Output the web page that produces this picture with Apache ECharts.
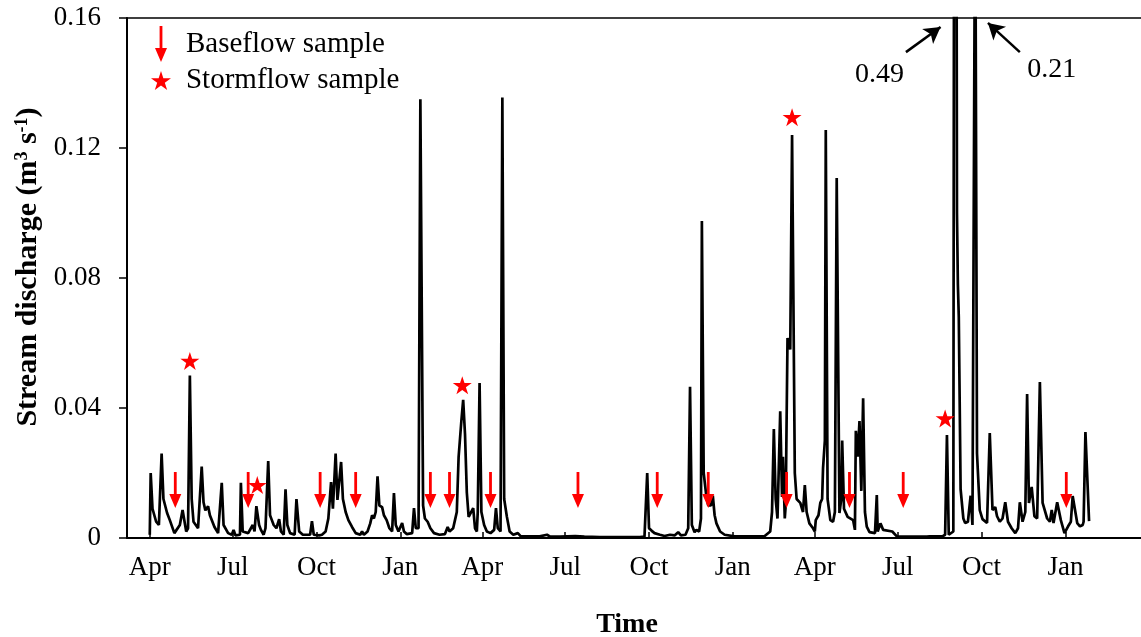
<!DOCTYPE html>
<html>
<head>
<meta charset="utf-8">
<script src="https://cdn.jsdelivr.net/npm/echarts@6/dist/echarts.min.js"></script>
<style>html,body{margin:0;padding:0;background:#fff}#c{width:1141px;height:637px}</style>
</head>
<body>
<div id="c"></div>
<script>
// ---------------- DATA ----------------
const flowDates = [
'2013-04-01','2013-04-02','2013-04-04','2013-04-08','2013-04-11','2013-04-14','2013-04-16','2013-04-20','2013-04-23','2013-04-28',
'2013-05-04','2013-05-07','2013-05-11','2013-05-13','2013-05-15','2013-05-17','2013-05-19','2013-05-24','2013-05-28','2013-05-30',
'2013-06-01','2013-06-04','2013-06-06','2013-06-08','2013-06-11','2013-06-15','2013-06-17','2013-06-19','2013-06-21','2013-06-26',
'2013-06-30','2013-07-02','2013-07-04','2013-07-09','2013-07-10','2013-07-12','2013-07-18','2013-07-21','2013-07-23','2013-07-25',
'2013-07-27','2013-07-30','2013-08-01','2013-08-04','2013-08-06','2013-08-09','2013-08-11','2013-08-13','2013-08-15','2013-08-18',
'2013-08-21','2013-08-23','2013-08-26','2013-08-28','2013-08-30','2013-09-02','2013-09-07','2013-09-09','2013-09-12','2013-09-16',
'2013-09-24','2013-09-26','2013-09-28','2013-09-30','2013-10-04','2013-10-07','2013-10-11','2013-10-14','2013-10-17','2013-10-19',
'2013-10-22','2013-10-24','2013-10-28','2013-10-30','2013-11-02','2013-11-05','2013-11-09','2013-11-13','2013-11-18','2013-11-20',
'2013-11-22','2013-11-26','2013-11-29','2013-12-01','2013-12-03','2013-12-05','2013-12-07','2013-12-09','2013-12-12','2013-12-14',
'2013-12-17','2013-12-20','2013-12-23','2013-12-25','2013-12-27','2013-12-30','2014-01-03','2014-01-05','2014-01-08','2014-01-14',
'2014-01-16','2014-01-18','2014-01-21','2014-01-23','2014-01-26','2014-01-28','2014-01-31','2014-02-03','2014-02-07','2014-02-13',
'2014-02-19','2014-02-22','2014-02-24','2014-02-28','2014-03-02','2014-03-04','2014-03-06','2014-03-09','2014-03-11','2014-03-13',
'2014-03-15','2014-03-17','2014-03-19','2014-03-22','2014-03-24','2014-03-26','2014-03-27','2014-03-29','2014-03-31','2014-04-03',
'2014-04-06','2014-04-10','2014-04-14','2014-04-16','2014-04-18','2014-04-21','2014-04-23','2014-04-25','2014-04-28','2014-05-01',
'2014-05-05','2014-05-10','2014-05-13','2014-05-23','2014-06-03','2014-06-11','2014-06-14','2014-06-25','2014-07-12','2014-07-22',
'2014-08-08','2014-08-30','2014-09-21','2014-09-26','2014-09-29','2014-10-01','2014-10-04','2014-10-07','2014-10-13','2014-10-18',
'2014-10-24','2014-10-29','2014-11-02','2014-11-05','2014-11-10','2014-11-13','2014-11-15','2014-11-17','2014-11-20','2014-11-22',
'2014-11-25','2014-11-27','2014-11-28','2014-11-30','2014-12-03','2014-12-05','2014-12-08','2014-12-10','2014-12-12','2014-12-14',
'2014-12-18','2014-12-23','2015-01-03','2015-01-20','2015-02-05','2015-02-11','2015-02-13','2015-02-15','2015-02-17','2015-02-19',
'2015-02-22','2015-02-24','2015-02-25','2015-02-27','2015-02-28','2015-03-02','2015-03-05','2015-03-07','2015-03-10','2015-03-12',
'2015-03-16','2015-03-19','2015-03-21','2015-03-23','2015-03-26','2015-03-30','2015-04-01','2015-04-02','2015-04-05','2015-04-07',
'2015-04-09','2015-04-10','2015-04-12','2015-04-13','2015-04-15','2015-04-18','2015-04-21','2015-04-23','2015-04-25','2015-04-28',
'2015-04-30','2015-05-01','2015-05-03','2015-05-07','2015-05-09','2015-05-13','2015-05-15','2015-05-16','2015-05-18','2015-05-20',
'2015-05-22','2015-05-24','2015-05-26','2015-05-28','2015-05-31','2015-06-06','2015-06-08','2015-06-09','2015-06-12','2015-06-15',
'2015-06-17','2015-06-25','2015-06-30','2015-07-14','2015-08-02','2015-08-03','2015-08-05','2015-08-19','2015-08-22','2015-08-24',
'2015-08-26','2015-08-28','2015-08-31','2015-09-02','2015-09-04','2015-09-05','2015-09-06','2015-09-08','2015-09-11','2015-09-13',
'2015-09-16','2015-09-19','2015-09-21','2015-09-24','2015-09-26','2015-09-29','2015-10-02','2015-10-07','2015-10-10','2015-10-13',
'2015-10-16','2015-10-18','2015-10-21','2015-10-24','2015-10-27','2015-10-30','2015-11-03','2015-11-07','2015-11-10','2015-11-12',
'2015-11-15','2015-11-18','2015-11-20','2015-11-22','2015-11-25','2015-11-28','2015-12-01','2015-12-04','2015-12-07','2015-12-12',
'2015-12-15','2015-12-17','2015-12-19','2015-12-23','2015-12-27','2015-12-31','2016-01-04','2016-01-07','2016-01-09','2016-01-14',
'2016-01-17','2016-01-20','2016-01-21','2016-01-23','2016-01-27'
];
const flowValues = [
0.001,0.020,0.009,0.005,0.004,0.026,0.012,0.0077,0.0055,0.0015,
0.004,0.0086,0.002,0.003,0.050,0.012,0.005,0.003,0.022,0.011,
0.0085,0.0098,0.007,0.0075,0.0034,0.0015,0.002,0.017,0.004,0.0015,
0.001,0.0025,0.0008,0.001,0.017,0.002,0.0015,0.003,0.004,0.002,
0.0098,0.004,0.0025,0.001,0.003,0.0237,0.007,0.0055,0.004,0.003,
0.0058,0.002,0.001,0.015,0.004,0.0015,0.001,0.012,0.002,0.001,
0.001,0.0052,0.001,0.0015,0.0008,0.001,0.002,0.006,0.0172,0.009,
0.026,0.0117,0.0234,0.012,0.008,0.0055,0.0034,0.0015,0.001,0.002,
0.001,0.002,0.0045,0.007,0.006,0.008,0.019,0.010,0.0095,0.007,
0.0055,0.003,0.002,0.0138,0.004,0.002,0.0046,0.002,0.0012,0.0015,
0.0092,0.003,0.003,0.135,0.010,0.006,0.005,0.003,0.0015,0.001,
0.0012,0.0034,0.002,0.003,0.0055,0.008,0.025,0.036,0.0425,0.032,
0.014,0.0065,0.006,0.0092,0.003,0.002,0.008,0.0477,0.008,0.004,
0.002,0.0015,0.0025,0.0092,0.003,0.002,0.1355,0.012,0.0065,0.002,
0.001,0.0015,0.0006,0.0005,0.0005,0.001,0.0005,0.0004,0.0006,0.0004,
0.0003,0.0003,0.0003,0.0004,0.020,0.003,0.0022,0.0015,0.001,0.0006,
0.001,0.0008,0.0018,0.0008,0.001,0.003,0.0465,0.004,0.0018,0.0025,
0.002,0.006,0.0975,0.020,0.0126,0.010,0.010,0.013,0.007,0.0045,
0.002,0.001,0.0005,0.0005,0.0006,0.002,0.008,0.0335,0.012,0.006,
0.039,0.0126,0.025,0.006,0.010,0.0615,0.058,0.124,0.020,0.012,
0.0108,0.008,0.0163,0.008,0.0045,0.003,0.002,0.0055,0.007,0.0108,
0.012,0.0215,0.030,0.1255,0.012,0.0055,0.005,0.008,0.1108,0.0077,
0.012,0.030,0.009,0.0065,0.006,0.0055,0.0025,0.033,0.025,0.036,
0.0145,0.043,0.008,0.0035,0.0018,0.0015,0.0132,0.002,0.0045,0.0025,
0.0025,0.002,0.0005,0.0004,0.0004,0.001,0.0005,0.0005,0.001,0.0317,
0.001,0.0005,0.002,0.49,0.10,0.078,0.068,0.015,0.006,0.0046,
0.005,0.013,0.004,0.21,0.026,0.0086,0.0058,0.0046,0.0323,0.0086,
0.0095,0.0067,0.005,0.006,0.011,0.005,0.003,0.0015,0.003,0.011,
0.005,0.008,0.0443,0.0108,0.0157,0.0067,0.006,0.048,0.0108,0.006,
0.005,0.0086,0.0046,0.011,0.0055,0.0015,0.0036,0.005,0.0129,0.0046,
0.0036,0.004,0.005,0.0326,0.0052
];
const baseflowDates = ['2013-04-29','2013-07-18','2013-10-05','2013-11-13','2014-02-03','2014-02-24','2014-04-10',
  '2014-07-15','2014-10-10','2014-12-05','2015-03-01','2015-05-09','2015-07-07','2016-01-02'];
const baseflowValues = [0.0148,0.0148,0.0148,0.0148,0.0148,0.0148,0.0148,0.0148,0.0148,0.0148,0.0148,0.0148,0.0148,0.0148];
const stormflowDates = ['2013-05-15','2013-07-28','2014-03-10','2015-03-07','2015-08-22'];
const stormflowValues = [0.0545,0.0163,0.047,0.1295,0.0368];
const xTickDates = ['2013-04-01','2013-07-01','2013-10-01','2014-01-01','2014-04-01','2014-07-01','2014-10-01',
  '2015-01-01','2015-04-01','2015-07-01','2015-10-01','2016-01-01'];
const xTickLabels = ['Apr','Jul','Oct','Jan','Apr','Jul','Oct','Jan','Apr','Jul','Oct','Jan'];
const yTickLabels = ['0','0.04','0.08','0.12','0.16'];
const offscaleLabels = ['0.49','0.21'];
const offscaleLabelDates = ['2015-06-11','2015-12-17'];
const offscaleLabelValues = [0.1425,0.1440];
const offscaleArrowFrom = [['2015-07-10',0.1495],['2015-11-12',0.1495]];
const offscaleArrowTo = [['2015-08-17',0.1572],['2015-10-08',0.1585]];

// ---------------- CHART ----------------
function ts(s){ const p=s.split('-'); return Date.UTC(+p[0], +p[1]-1, +p[2]); }
const FONT = "'Liberation Serif','Times New Roman',serif";
const arrowPath = 'path://M4.6,0 L7.4,0 L7.4,22 L12,22 L6,36 L0,22 L4.6,22 Z';
const starPath = 'path://M50,0 L61.2,34.5 L97.6,34.5 L68.2,55.9 L79.4,90.5 L50,69.1 L20.6,90.5 L31.8,55.9 L2.4,34.5 L38.8,34.5 Z';
const tickTs = xTickDates.map(ts);

const chart = echarts.init(document.getElementById('c'), null, {renderer:'canvas'});
chart.setOption({
  animation:false,
  backgroundColor:'#fff',
  grid:{left:127, right:0, top:18, bottom:99, containLabel:false, outerBoundsMode:'none'},
  legend:[
    {data:[{name:'Baseflow sample', icon:arrowPath, itemStyle:{color:'#ff0000', opacity:1}}], left:155, top:26, padding:0,
     itemWidth:12, itemHeight:36, symbolKeepAspect:true,
     textStyle:{fontFamily:FONT, fontSize:29, color:'#000', padding:[9,0,0,14]}},
    {data:[{name:'Stormflow sample', icon:starPath, itemStyle:{color:'#ff0000', opacity:1}}], left:151, top:66, padding:0,
     itemWidth:20, itemHeight:19, symbolKeepAspect:true,
     textStyle:{fontFamily:FONT, fontSize:29, color:'#000', padding:[0,0,0,10]}}
  ],
  xAxis:[{
    type:'value', min:ts('2013-03-07'), max:ts('2016-03-24'),
    name:'Time', nameLocation:'middle', nameGap:73,
    nameTextStyle:{fontFamily:FONT, fontSize:28, fontWeight:'bold', color:'#000', padding:[0,14,0,0]},
    axisLine:{show:true, onZero:false, lineStyle:{color:'#000', width:2}},
    axisTick:{show:true, inside:true, length:6, customValues:tickTs, lineStyle:{color:'#000', width:1.5}},
    axisLabel:{customValues:tickTs, margin:16, fontFamily:FONT, fontSize:27, color:'#000',
      formatter:function(v){ const i=tickTs.indexOf(v); return i>=0 ? xTickLabels[i] : ''; }},
    splitLine:{show:false}, minorTick:{show:false}
  },{
    type:'value', position:'top', min:0, max:1,
    axisLine:{show:true, onZero:false, lineStyle:{color:'#000', width:1.5}},
    axisTick:{show:false}, axisLabel:{show:false}, splitLine:{show:false}
  }],
  yAxis:{
    type:'value', min:0, max:0.16, interval:0.04,
    name:'Stream discharge (m{sup|3} s{sup|-1})', nameLocation:'middle', nameGap:84,
    nameTextStyle:{fontFamily:FONT, fontSize:30, fontWeight:'bold', color:'#000', padding:[0,0,0,22],
      rich:{sup:{fontFamily:FONT, fontSize:18, fontWeight:'bold', color:'#000', verticalAlign:'top'}}},
    axisLine:{show:true, lineStyle:{color:'#000', width:2}},
    axisTick:{show:true, length:8, lineStyle:{color:'#000', width:1.5}},
    axisLabel:{margin:26, fontFamily:FONT, fontSize:27, color:'#000', padding:[8,0,0,0],
      formatter:function(v){ return yTickLabels[Math.round(v/0.04)]; }},
    splitLine:{show:false}
  },
  series:[
    {name:'Discharge', type:'line', clip:true, showSymbol:false, symbol:'none',
     lineStyle:{color:'#000', width:2.7}, z:2,
     data:flowDates.map((d,i)=>[ts(d), flowValues[i]])},
    {name:'Baseflow sample', type:'scatter', symbol:arrowPath, symbolSize:[12,36], z:3,
     itemStyle:{color:'#ff0000', opacity:1},
     data:baseflowDates.map((d,i)=>[ts(d), baseflowValues[i]])},
    {name:'Stormflow sample', type:'scatter', symbol:starPath, symbolSize:[19,18], z:3,
     itemStyle:{color:'#ff0000', opacity:1},
     data:stormflowDates.map((d,i)=>[ts(d), stormflowValues[i]])},
    {name:'offscale', type:'scatter', symbolSize:0, z:4, silent:true,
     itemStyle:{opacity:1},
     label:{show:true, position:'inside', fontFamily:FONT, fontSize:28, color:'#000', textBorderWidth:0, opacity:1,
       formatter:function(p){ return offscaleLabels[p.dataIndex]; }},
     data:offscaleLabelDates.map((d,i)=>[ts(d), offscaleLabelValues[i]]),
     markLine:{silent:true, symbol:['none','arrow'], symbolSize:[14,16], animation:false,
       lineStyle:{color:'#000', width:2.5, type:'solid', opacity:1}, label:{show:false},
       data:offscaleArrowFrom.map((f,i)=>[{coord:[ts(f[0]), f[1]]},{coord:[ts(offscaleArrowTo[i][0]), offscaleArrowTo[i][1]]}])}
    }
  ]
});
</script>
</body>
</html>
